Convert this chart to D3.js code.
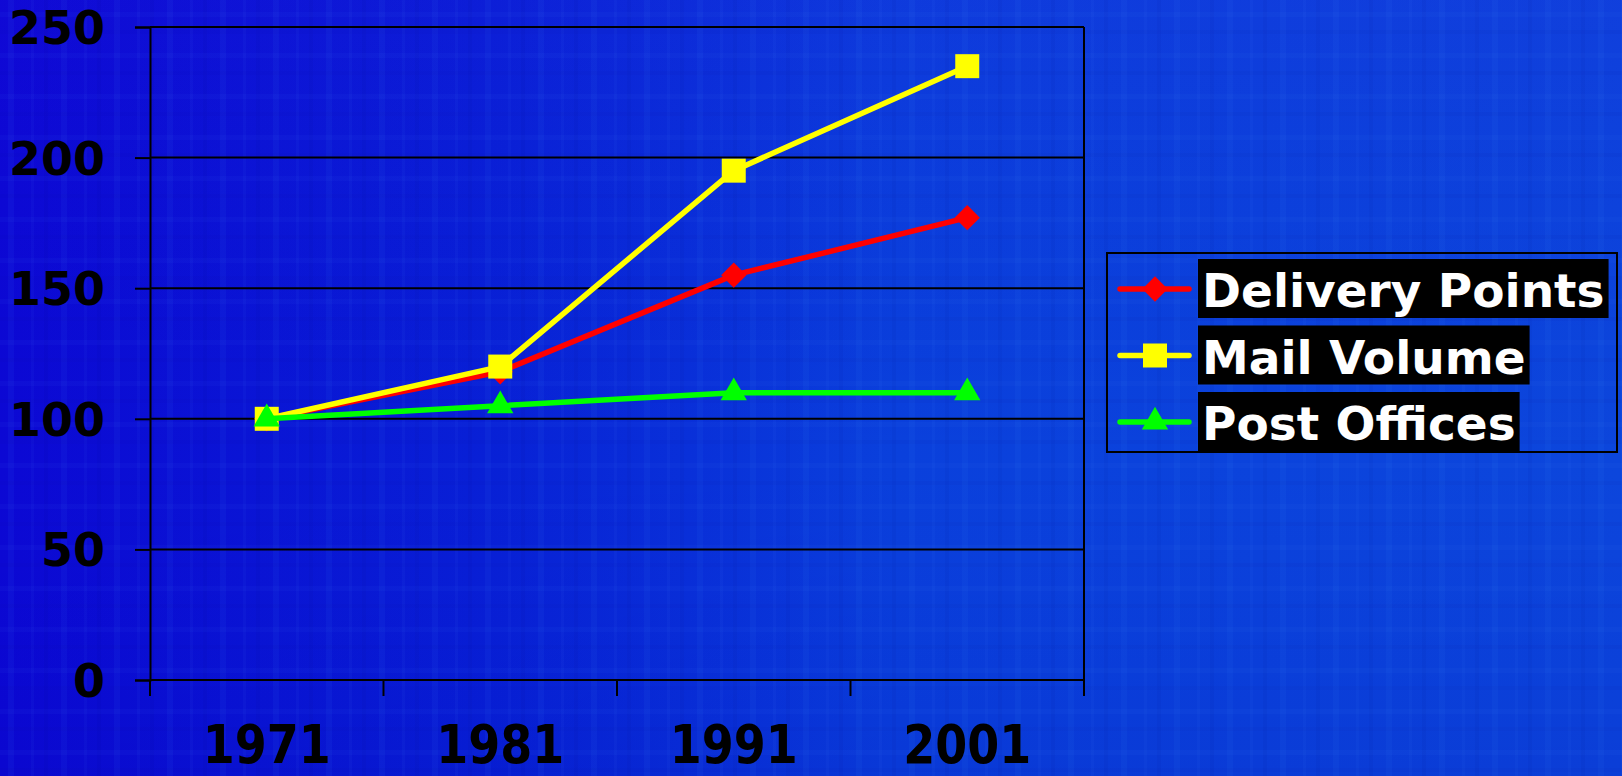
<!DOCTYPE html>
<html>
<head>
<meta charset="utf-8">
<script src="https://cdn.jsdelivr.net/npm/d3@7"></script>
<style>
  html, body { margin: 0; padding: 0; background: #0a20d0; overflow: hidden; }
  text { font-family: "DejaVu Sans", Verdana, sans-serif; font-weight: bold; }
</style>
</head>
<body>
<script>
// data
const years = ["1971", "1981", "1991", "2001"];
const deliveryPoints = [100, 118, 155, 177];
const mailVolume = [100, 120, 195, 235];
const postOffices = [100, 105, 110, 110];
const yTicks = [0, 50, 100, 150, 200, 250];
const seriesNames = ["Delivery Points", "Mail Volume", "Post Offices"];

// dimensions
const width = 1622;
const height = 776;
const plotLeft = 150, plotRight = 1084, plotTop = 27, plotBottom = 680;

const svg = d3.select("body")
  .append("svg")
  .attr("width", width)
  .attr("height", height);

// background
const defs = svg.append("defs");
const bg = defs.append("linearGradient").attr("id", "bg")
  .attr("x1", "0%").attr("x2", "100%").attr("y1", "0%").attr("y2", "0%");
[["0%", "#0c08d4"], ["30%", "#0820d6"], ["55%", "#0a40dc"], ["100%", "#0c46dc"]]
  .forEach(s => bg.append("stop").attr("offset", s[0]).attr("stop-color", s[1]));

const shade = defs.append("linearGradient").attr("id", "shade")
  .attr("x1", "0%").attr("x2", "0%").attr("y1", "0%").attr("y2", "100%");
shade.append("stop").attr("offset", "0%").attr("stop-color", "#3010e0").attr("stop-opacity", 0.12);
shade.append("stop").attr("offset", "60%").attr("stop-color", "#0000c0").attr("stop-opacity", 0);
shade.append("stop").attr("offset", "100%").attr("stop-color", "#0000b0").attr("stop-opacity", 0.12);

// faint plaid texture
const plaid = defs.append("pattern").attr("id", "plaid")
  .attr("width", 53).attr("height", 41).attr("patternUnits", "userSpaceOnUse");
plaid.append("rect").attr("x", 8).attr("width", 6).attr("height", 41).attr("fill", "#4a90ff").attr("opacity", 0.06);
plaid.append("rect").attr("x", 31).attr("width", 3).attr("height", 41).attr("fill", "#4a90ff").attr("opacity", 0.05);
plaid.append("rect").attr("x", 44).attr("width", 4).attr("height", 41).attr("fill", "#000080").attr("opacity", 0.05);
plaid.append("rect").attr("y", 12).attr("width", 53).attr("height", 5).attr("fill", "#4a90ff").attr("opacity", 0.04);
plaid.append("rect").attr("y", 30).attr("width", 53).attr("height", 4).attr("fill", "#000080").attr("opacity", 0.04);

svg.append("rect").attr("width", width).attr("height", height).attr("fill", "url(#bg)");
svg.append("rect").attr("width", width).attr("height", height).attr("fill", "url(#shade)");
svg.append("rect").attr("width", width).attr("height", height).attr("fill", "url(#plaid)");

// scales
const xScale = d3.scaleBand().domain(years).range([plotLeft, plotRight]);
const yScale = d3.scaleLinear().domain([0, 250]).range([plotBottom, plotTop]);
const cx = d => xScale(d) + xScale.bandwidth() / 2;

// grid lines
svg.append("g")
  .selectAll("line")
  .data(yTicks.filter(v => v > 0))
  .enter()
  .append("line")
  .attr("x1", plotLeft).attr("x2", plotRight)
  .attr("y1", d => yScale(d)).attr("y2", d => yScale(d))
  .attr("stroke", "#000").attr("stroke-width", 2);

// right border
svg.append("line")
  .attr("x1", plotRight).attr("x2", plotRight)
  .attr("y1", plotTop).attr("y2", plotBottom + 16)
  .attr("stroke", "#000").attr("stroke-width", 2);

// y axis
const yAxis = svg.append("g")
  .attr("transform", `translate(${plotLeft},0)`)
  .call(d3.axisLeft(yScale).tickValues(yTicks).tickSize(15).tickPadding(30));
yAxis.select(".domain").attr("stroke", "#000").attr("stroke-width", 2);
yAxis.selectAll(".tick line").attr("stroke", "#000").attr("stroke-width", 2);
yAxis.selectAll(".tick text")
  .attr("fill", "#000")
  .style("font-size", "46px")
  .style("font-family", "'DejaVu Sans', Verdana, sans-serif")
  .style("font-weight", "bold")
  .attr("dy", "0.36em");

// x axis line and band ticks
svg.append("line")
  .attr("x1", plotLeft).attr("x2", plotRight)
  .attr("y1", plotBottom).attr("y2", plotBottom)
  .attr("stroke", "#000").attr("stroke-width", 2);
svg.append("g")
  .selectAll("line")
  .data(years)
  .enter()
  .append("line")
  .attr("x1", d => xScale(d)).attr("x2", d => xScale(d))
  .attr("y1", plotBottom).attr("y2", plotBottom + 16)
  .attr("stroke", "#000").attr("stroke-width", 2);

// x labels (stretched vertically like the original)
svg.append("g")
  .selectAll("text")
  .data(years)
  .enter()
  .append("text")
  .attr("transform", d => `translate(${cx(d)},763) scale(1,1.14)`)
  .attr("text-anchor", "middle")
  .attr("fill", "#000")
  .style("font-size", "46px")
  .text(d => d);

// series
const series = [
  { name: seriesNames[0], values: deliveryPoints, color: "#ff0000", shape: d3.symbolSquare, size: 320, rot: 45 },
  { name: seriesNames[1], values: mailVolume, color: "#ffff00", shape: d3.symbolSquare, size: 576, rot: 0 },
  { name: seriesNames[2], values: postOffices, color: "#00ff00", shape: d3.symbolTriangle, size: 300, rot: 0 }
];

const line = d3.line()
  .x((d, i) => cx(years[i]))
  .y(d => yScale(d));

series.forEach(s => {
  const g = svg.append("g");
  g.append("path")
    .attr("d", line(s.values))
    .attr("fill", "none")
    .attr("stroke", s.color)
    .attr("stroke-width", 5.5)
    .attr("stroke-linejoin", "round");
  g.selectAll("path.pt")
    .data(s.values)
    .enter()
    .append("path")
    .attr("class", "pt")
    .attr("d", d3.symbol().type(s.shape).size(s.size))
    .attr("transform", (d, i) => `translate(${cx(years[i])},${yScale(d)}) rotate(${s.rot})`)
    .attr("fill", s.color);
});

// legend
const legend = svg.append("g");
legend.append("rect")
  .attr("x", 1107).attr("y", 253)
  .attr("width", 510).attr("height", 199)
  .attr("fill", "none")
  .attr("stroke", "#000").attr("stroke-width", 2);

series.forEach((s, i) => {
  const ly = 289 + i * 66.5;
  const row = legend.append("g");
  const bgRect = row.append("rect").attr("fill", "#000");
  row.append("line")
    .attr("x1", 1120).attr("x2", 1189)
    .attr("y1", ly).attr("y2", ly)
    .attr("stroke", s.color).attr("stroke-width", 5.5)
    .attr("stroke-linecap", "round");
  row.append("path")
    .attr("d", d3.symbol().type(s.shape).size(s.size))
    .attr("transform", `translate(1155,${ly}) rotate(${s.rot})`)
    .attr("fill", s.color);
  const t = row.append("text")
    .attr("x", 1202).attr("y", ly + 18)
    .attr("fill", "#fff")
    .style("font-size", "47px")
    .text(s.name);
  const w = t.node().getComputedTextLength();
  bgRect.attr("x", 1198).attr("y", ly - 30)
    .attr("width", w + 8).attr("height", 59);
});
</script>
</body>
</html>
